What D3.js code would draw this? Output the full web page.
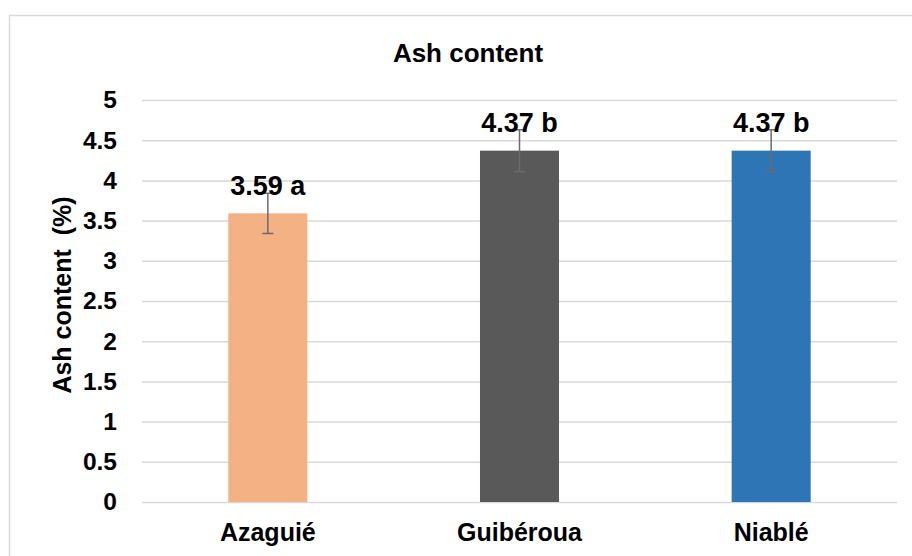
<!DOCTYPE html>
<html><head><meta charset="utf-8">
<script src="https://cdn.jsdelivr.net/npm/d3@7"></script>
<style>body{margin:0;background:#fff}svg{display:block}text{font-family:"Liberation Sans",Arial,sans-serif;font-weight:bold;fill:#000}</style>
</head><body><svg id="c" width="912" height="556"></svg>
<script>
const categories = ["Azaguié", "Guibéroua", "Niablé"];
const values = [3.59, 4.37, 4.37];
const errors = [0.25, 0.26, 0.26];
const letters = ["a", "b", "b"];
const colors = ["#F4B183", "#595959", "#2E75B6"];
const yTicks = [0, 0.5, 1, 1.5, 2, 2.5, 3, 3.5, 4, 4.5, 5];
const title = "Ash content";
const yTitle = "Ash content  (%)";

const svg = d3.select("#c");
svg.append("rect").attr("x", 9.5).attr("y", 15.5).attr("width", 920).attr("height", 600)
  .attr("fill", "#fff").attr("stroke", "#D9D9D9").attr("stroke-width", 1.5);

const x = d3.scaleBand().domain(categories).range([142, 897]).paddingInner(0).paddingOuter(0);
const y = d3.scaleLinear().domain([0, 5]).range([502, 100]);
const barW = x.bandwidth() * 0.314;

const ya = svg.append("g").attr("transform", "translate(142,0)")
  .call(d3.axisLeft(y).tickValues(yTicks).tickFormat(d3.format("")).tickSize(-755).tickPadding(25));
ya.select(".domain").remove();
ya.selectAll(".tick line").attr("stroke", "#D9D9D9").attr("stroke-width", 1.5);
ya.selectAll(".tick text").attr("font-size", 24.5).attr("font-family", null).attr("fill", "#000");

const xa = svg.append("g").attr("transform", "translate(0,502)")
  .call(d3.axisBottom(x).tickSize(0).tickPadding(21));
xa.select(".domain").remove();
xa.selectAll(".tick text").attr("font-size", 25).attr("font-family", null).attr("fill", "#000");

const data = categories.map((c, i) => ({c, v: values[i], e: errors[i], l: letters[i], col: colors[i]}));
svg.selectAll("rect.bar").data(data).join("rect").attr("class", "bar")
  .attr("x", d => x(d.c) + x.bandwidth() / 2 - barW / 2).attr("width", barW)
  .attr("y", d => y(d.v)).attr("height", d => y(0) - y(d.v)).attr("fill", d => d.col);

const eb = svg.selectAll("g.err").data(data).join("g").attr("class", "err")
  .attr("stroke", "#6b6b6b").attr("stroke-width", 1.5);
eb.append("line").attr("x1", d => x(d.c) + x.bandwidth() / 2).attr("x2", d => x(d.c) + x.bandwidth() / 2)
  .attr("y1", d => y(d.v + d.e)).attr("y2", d => y(d.v - d.e));
eb.append("line").attr("x1", d => x(d.c) + x.bandwidth() / 2 - 5.5).attr("x2", d => x(d.c) + x.bandwidth() / 2 + 5.5)
  .attr("y1", d => y(d.v + d.e)).attr("y2", d => y(d.v + d.e));
eb.append("line").attr("x1", d => x(d.c) + x.bandwidth() / 2 - 5.5).attr("x2", d => x(d.c) + x.bandwidth() / 2 + 5.5)
  .attr("y1", d => y(d.v - d.e)).attr("y2", d => y(d.v - d.e));

svg.selectAll("text.lbl").data(data).join("text").attr("class", "lbl")
  .attr("x", d => x(d.c) + x.bandwidth() / 2).attr("y", d => y(d.v) - 18.5)
  .attr("text-anchor", "middle").attr("font-size", 27).text(d => d.v.toFixed(2) + " " + d.l);

svg.append("text").attr("x", 468).attr("y", 62).attr("text-anchor", "middle").attr("font-size", 26).text(title);
svg.append("text").attr("transform", "translate(71,295) rotate(-90)").attr("text-anchor", "middle")
  .attr("font-size", 25).style("white-space", "pre").text(yTitle);
</script></body></html>
